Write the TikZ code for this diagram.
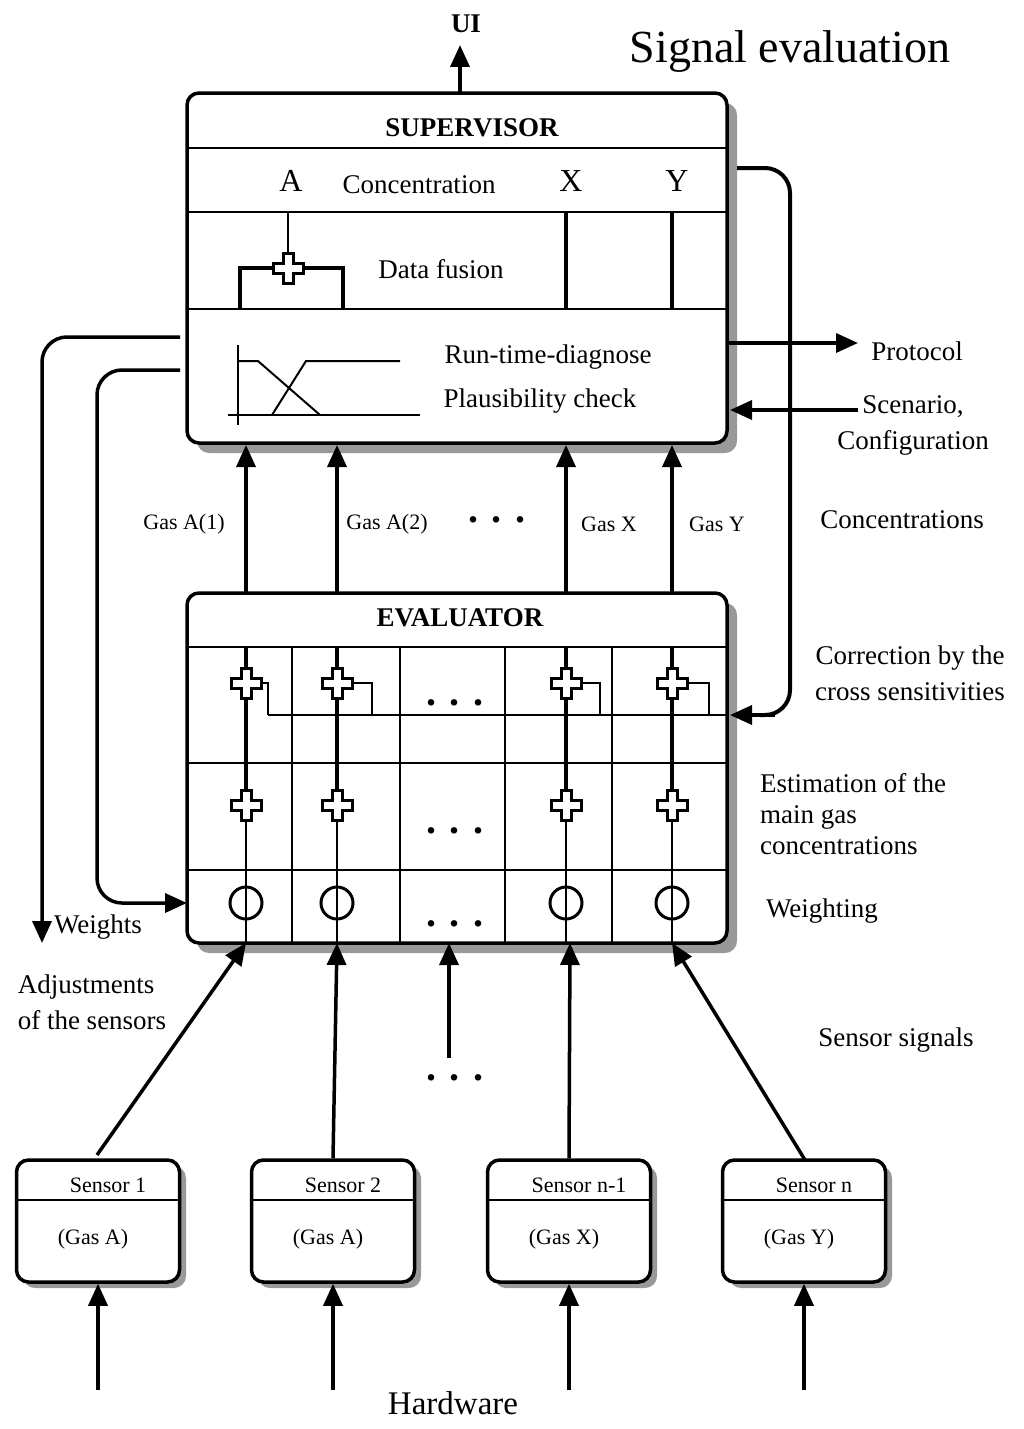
\documentclass[tikz,border=0pt]{standalone}
\usepackage{fontspec}
\setmainfont{Liberation Serif}
\usetikzlibrary{positioning,arrows.meta}
\tikzset{
  box/.style={draw,line width=3.5pt,rounded corners=12pt,fill=white,inner sep=0pt},
  shadow/.style={fill=gray!80,rounded corners=12pt},
  grid/.style={line width=2pt},
  sig/.style={line width=4pt},
  arr/.style={line width=3.5pt,-{Triangle[length=22pt,width=19pt]}},
  txt/.style={font=\fontsize{27}{36}\selectfont,inner sep=0pt},
  small/.style={font=\fontsize{22}{26}\selectfont,inner sep=0pt},
  head/.style={font=\fontsize{27}{30}\selectfont\bfseries,inner sep=0pt},
  dots/.style={font=\fontsize{40}{40}\selectfont\bfseries,inner sep=0pt}
}
\newcommand\gasplus[2]{%
  \draw[line width=3pt,fill=white] (#1-5,#2-15) -- (#1+5,#2-15) -- (#1+5,#2-5) -- (#1+15,#2-5)
    -- (#1+15,#2+5) -- (#1+5,#2+5) -- (#1+5,#2+15) -- (#1-5,#2+15) -- (#1-5,#2+5)
    -- (#1-15,#2+5) -- (#1-15,#2-5) -- (#1-5,#2-5) -- cycle;}
\begin{document}
\begin{tikzpicture}[x=1pt,y=-1pt]
\useasboundingbox (0,0) rectangle (1024,1429);
% shadows
\fill[shadow] (197,103) rectangle (737,453);
\fill[shadow] (197,603) rectangle (737,953);
% supervisor
\node[box,minimum width=540pt,minimum height=350pt] (sup) at (457,268) {};
\draw[grid] (187,148) -- (727,148) (187,212) -- (727,212) (187,309) -- (727,309);
\node[head] (suph) at (472,128) {SUPERVISOR};
\node[txt,font=\fontsize{32}{34}\selectfont] (ca) at (291,181) {A};
\node[txt] (conc) at (419,185) {Concentration};
\node[txt,font=\fontsize{32}{34}\selectfont] (cx) at (571,181) {X};
\node[txt,font=\fontsize{32}{34}\selectfont] (cy) at (677,181) {Y};
\draw[grid] (288,212) -- (288,260);
\draw[sig] (240,309) -- (240,268) -- (343,268) -- (343,309);
\gasplus{288}{268}
\draw[sig] (566,212) -- (566,309) (672,212) -- (672,309);
\node[txt] (fus) at (441,269) {Data fusion};
% run-time diagnose
\draw[grid] (238,345) -- (238,425) (228,415) -- (420,415);
\draw[grid] (238,361) -- (258,361) -- (320,415) (272,415) -- (306,361) -- (400,361);
\node[txt] (rtd) at (548,357) {Run-time-diagnose};
\node[txt] (plc) at (540,401) {Plausibility check};
% top
\coordinate (ui) at (460,45);
\draw[arr] (460,93) -- (ui);
\node[head] at (466,24) {UI};
\node[txt,font=\fontsize{46}{48}\selectfont] (title) at (790,52) {Signal evaluation};
\node[txt] (prot) at (917,351) {Protocol};
\draw[arr] (727,343) -- (858,343);
\node[txt,align=center] (scen) at (913,425) {Scenario,\\Configuration};
\draw[arr] (858,410) -- (730,410);
% evaluator
\node[box,minimum width=540pt,minimum height=350pt] (eva) at (457,768) {};
\node[head] (evah) at (460,618) {EVALUATOR};
\draw[grid] (187,647) -- (727,647) (187,763) -- (727,763) (187,870) -- (727,870);
\foreach \c in {292,400,505,612} \draw[grid] (\c,647) -- (\c,943);
\draw[grid] (268,715) -- (727,715);
\foreach \c/\e in {246/268,337/372,566/600,672/709}{
  \draw[sig] (\c,647) -- (\c,805);
  \draw[grid] (\c,805) -- (\c,943);
  \draw[grid] (\c+15,683) -- (\e,683) -- (\e,715);
  \gasplus{\c}{683}
  \gasplus{\c}{805}
  \draw[line width=3pt] (\c,903) circle (16);
}
\node[dots] at (455,703) {. . .};
\node[dots] at (455,831) {. . .};
\node[dots] at (455,924) {. . .};
% links supervisor - evaluator
\foreach \c/\t/\xo in {246/Gas A(1)/184,337/Gas A(2)/387,566/Gas X/609,672/Gas Y/717}{
  \draw[arr] (\c,593) -- (\c,445);
  \node[small] at (\xo,524) {\t};
}
\node[dots] at (497,520) {. . .};
\node[txt] (concs) at (902,520) {Concentrations};
% feedback loops
\draw[sig,rounded corners=25pt] (737,168) -- (790,168) -- (790,715) -- (760,715);
\draw[arr] (775,715) -- (730,715);
\draw[arr,rounded corners=25pt] (180,337) -- (42,337) -- (42,943);
\draw[arr,rounded corners=25pt] (180,370) -- (97,370) -- (97,903) -- (187,903);
\node[txt] (wts) at (98,927) {Weights};
\node[txt,align=left] (adj) at (92,1002) {Adjustments\\of the sensors};
\node[txt,align=center] (corr) at (910,673) {Correction by the\\cross sensitivities};
\node[txt,align=left,anchor=west,font=\fontsize{27}{31}\selectfont] (est) at (760,814) {Estimation of the\\main gas\\concentrations};
\node[txt] (wgt) at (822,911) {Weighting};
\node[txt] (ssig) at (896,1040) {Sensor signals};
% sensors
\foreach \n/\x/\s/\g in {s1/98/Sensor 1/(Gas A),s2/333/Sensor 2/(Gas A),s3/569/Sensor n-1/(Gas X),s4/804/Sensor n/(Gas Y)}{
  \fill[shadow] (\x-81+6,1166) rectangle (\x+82+6,1288);
  \node[box,minimum width=163pt,minimum height=122pt] (\n) at (\x,1221) {};
  \draw[grid] (\x-81,1200) -- (\x+82,1200);
  \node[small] at (\x+10,1185) {\s};
  \node[small] at (\x-5,1239) {\g};
  \coordinate (\n-hw) at (\x,1390);
  \draw[arr] (\n-hw) -- (\n.south);
}
\coordinate (in1) at (246,943);
\coordinate (in2) at (337,943);
\coordinate (in3) at (570,943);
\coordinate (in4) at (672,943);
\draw[arr] (97,1155) -- (in1);
\draw[arr] (s2.north) -- (in2);
\draw[arr] (s3.north) -- (in3);
\draw[arr] (805,1160) -- (in4);
\draw[arr] (449,1058) -- (449,943);
\node[dots] at (455,1078) {. . .};
\node[txt,font=\fontsize{33}{35}\selectfont] (hw) at (453,1403) {Hardware};
\end{tikzpicture}
\end{document}
